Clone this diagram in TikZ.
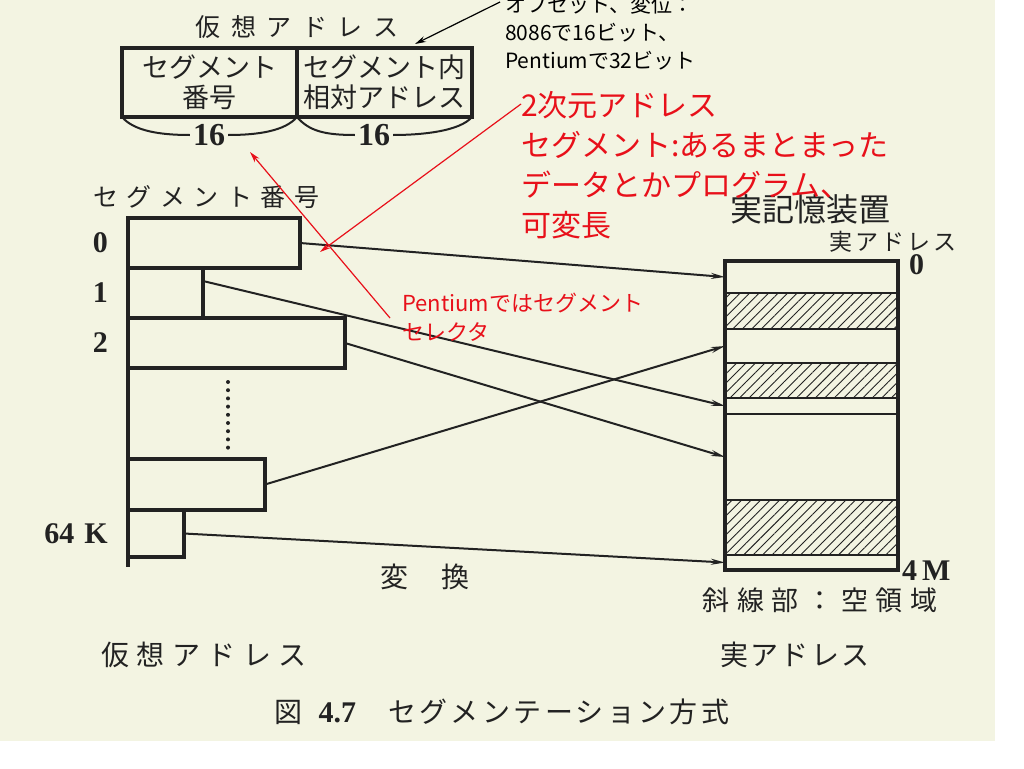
\documentclass[tikz,border=0pt]{standalone}
\usepackage{fontspec}
\setmainfont{Liberation Serif}
\newfontfamily\jp{Noto Sans CJK JP}
\usetikzlibrary{positioning,arrows.meta,patterns.meta}
\definecolor{paper}{HTML}{F3F4E2}
\definecolor{ink}{HTML}{222222}
\definecolor{note}{HTML}{E8101A}

\begin{document}
\begin{tikzpicture}[x=1pt,y=-1pt,>={Stealth[length=14pt,width=6pt]},
		lab/.style 2 args={font=\jp\fontsize{#1}{#1}\selectfont\addfontfeatures{LetterSpace=#2},text=ink,inner sep=0pt},
		num/.style={font=\rmfamily\bfseries\fontsize{30}{30}\selectfont,text=ink,inner sep=3pt},
		cell/.style={draw=ink,line width=3.4pt,minimum width=175pt,minimum height=69pt,inner sep=0pt,outer sep=0pt,
			align=center,text=ink,font=\jp\fontsize{27}{30}\selectfont},
		seg/.style={draw=ink,line width=3.4pt,anchor=north west,inner sep=0pt,outer sep=0pt},
		band/.style={draw=ink,line width=2pt,anchor=north west,minimum width=173pt,inner sep=0pt,outer sep=0pt},
		used/.style={},
		freearea/.style={pattern={Lines[angle=45,distance=6.7pt,line width=0.9pt]},pattern color=ink},
		conv/.style={->,draw=ink,line width=2pt},
		memo/.style={->,line width=1.2pt,>={Stealth[length=11pt,width=6pt]}}]

	\fill[white] (0,0) rectangle (1024,768);
	\fill[paper] (0,0) rectangle (995,741);
	\useasboundingbox (0,0) rectangle (1024,768);

	% virtual address format
	\node[cell] (segno) at (209.5,82.5) {セグメント\\番号};
	\node[cell,right=0pt of segno] (reladr) {セグメント内\\相対アドレス};
	\node[lab={25}{42},above=9pt of segno.north east] (vattl) {仮想アドレス};
	\node[num,font=\rmfamily\bfseries\fontsize{32}{32}\selectfont] (w1) at (209,135) {16};
	\node[num,font=\rmfamily\bfseries\fontsize{32}{32}\selectfont] (w2) at (374,135) {16};
	\draw[ink,line width=2pt] (segno.south west) .. controls +(12,14) and +(-30,0) .. (w1.west);
	\draw[ink,line width=2pt] (w1.east) .. controls +(30,0) and +(-12,14) .. (segno.south east);
	\draw[ink,line width=2pt] (segno.south east) .. controls +(12,14) and +(-30,0) .. (w2.west);
	\draw[ink,line width=2pt] (w2.east) .. controls +(30,0) and +(-12,14) .. (reladr.south east);

	% segment table
	\node[lab={25}{34}] (segttl) at (206,197) {セグメント番号};
	\foreach \n/\w/\t/\h in {0/172/218/50,1/75/268/50,2/217/318/50,n/137/459/51,k/56/510/47}
		\node[seg,minimum width=\w pt,minimum height=\h pt] (s\n) at (128,\t) {};
	\coordinate (spine) at (128,567);
	\draw[ink,line width=3.4pt] (s0.north west) -- (spine);
	\foreach \n/\t in {0/0,1/1,2/2,k/64\,\,K}
		\node[num,left=17pt of s\n] (i\n) {\t};
	\foreach \k in {0,...,8}
		\fill[ink] (228,382+8.2*\k) circle (2pt);

	% real memory
	\foreach \i/\t/\h/\s in {1/261/32/used,2/293/36/freearea,3/329/34/used,4/363/35/freearea,
		5/398/16/used,6/414/86/used,7/500/55/freearea,8/555/15/used}
		\node[band,\s,minimum height=\h pt] (m\i) at (725,\t) {};
	\draw[ink,line width=3.4pt] (m1.north west) rectangle (m8.south east);
	\node[lab={32}{0}] (mem) at (810,209) {実記憶装置};
	\node[lab={23}{14}] (radr) at (893,242) {実アドレス};
	\node[num,anchor=west] (top0) at (906,265) {0};
	\node[num,anchor=west] (bot4m) at (899,571) {4\,M};
	\node[lab={27}{28}] (hatch) at (820,600) {斜線部：空領域};

	\draw[conv] (s0.east) -- (m1.west);
	\draw[conv] ([yshift=12pt]s1.east) -- (m5.west);
	\draw[conv] (s2.east) -- (m6.west);
	\draw[conv] (sn.east) -- (m3.west);
	\draw[conv] (sk.east) -- (m8.west);

	\node[lab={28}{0}] (trans) at (425,577) {変\hspace{34pt}換};
	\node[lab={28}{27}] (vabot) at (204,655) {仮想アドレス};
	\node[lab={28}{8}] (rabot) at (795,655) {実アドレス};
	\node[lab={28}{12}] (cap) at (502,712) {図\hspace{16pt}{\rmfamily\bfseries\fontsize{30}{30}\selectfont 4.7}\hspace{32pt}セグメンテーション方式};

	% notes
	\node[anchor=north west,align=left,inner sep=0pt,font=\jp\fontsize{21}{28}\selectfont] (offs) at (505,-5)
		{オフセット、変位：\\8086で16ビット、\\Pentiumで32ビット};
	\coordinate (offtip) at (415,44);
	\draw[memo,black] ([shift={(-5,7)}]offs.north west) -- (offtip);

	\node[anchor=north west,align=left,inner sep=0pt,text=note,font=\jp\fontsize{30}{40}\selectfont] (dim) at (521,91)
		{2次元アドレス\\セグメント:あるまとまった\\データとかプログラム、\\可変長};
	\coordinate (segtip) at (320,252);
	\draw[memo,note] ([shift={(0,13)}]dim.north west) -- (segtip);

	\node[anchor=north west,align=left,inner sep=0pt,text=note,font=\jp\fontsize{22}{29}\selectfont] (sel) at (402,293)
		{Pentiumではセグメント\\セレクタ};
	\coordinate (numtip) at (250,152);
	\draw[memo,note] ([shift={(-12,25)}]sel.north west) -- (numtip);
\end{tikzpicture}
\end{document}
